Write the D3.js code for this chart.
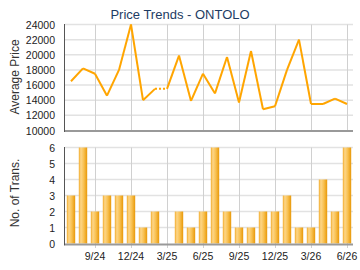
<!DOCTYPE html>
<html>
<head>
<meta charset="utf-8">
<script src="https://cdn.jsdelivr.net/npm/d3@7"></script>
<style>
  body { margin: 0; background: #fff; }
  svg { display: block; font-family: "Liberation Sans", Arial, sans-serif; }
</style>
</head>
<body>
<script>
// chart data
const months = ["7/24","8/24","9/24","10/24","11/24","12/24","1/25","2/25","3/25","4/25","5/25","6/25",
                "7/25","8/25","9/25","10/25","11/25","12/25","1/26","2/26","3/26","4/26","5/26","6/26"]
const prices = [16500,18200,17500,14600,18000,24000,14000,15500,null,19900,13900,17500,
                14900,19700,13700,20500,12800,13200,18000,22000,13500,13500,14200,13500]
const trans = [3,6,2,3,3,3,1,2,0,2,1,2,6,2,1,1,2,2,3,1,1,4,2,6]
const tickMonths = ["9/24","12/24","3/25","6/25","9/25","12/25","3/26","6/26"]
const priceTicks = [10000,12000,14000,16000,18000,20000,22000,24000]
const transTicks = [0,1,2,3,4,5,6]

const width = 360, height = 270
const svg = d3.select("body").append("svg").attr("width",width).attr("height",height)

// gradient for the bars
const grad = svg.append("defs").append("linearGradient").attr("id","barGrad")
  .attr("x1","0%").attr("x2","100%").attr("y1","0%").attr("y2","0%")
grad.append("stop").attr("offset","0%").attr("stop-color","#f2ab2a")
grad.append("stop").attr("offset","25%").attr("stop-color","#fdd688")
grad.append("stop").attr("offset","60%").attr("stop-color","#f8c050")
grad.append("stop").attr("offset","100%").attr("stop-color","#e89808")

const x = d3.scaleBand().domain(months).range([65,353]).paddingInner(0.3).paddingOuter(0.15)
const cx = m => x(m) + x.bandwidth()/2

// title
svg.append("text").attr("x",180).attr("y",19).attr("text-anchor","middle")
  .attr("font-size","13px").attr("fill","#1d3c63").text("Price Trends - ONTOLO")

// ---- top chart: average price
const yP = d3.scaleLinear().domain([10000,24000]).range([130.5,24.5])
const topG = svg.append("g")
topG.selectAll(".hg").data(priceTicks.slice(1)).enter().append("line")
  .attr("x1",65).attr("x2",353).attr("y1",d=>yP(d)).attr("y2",d=>yP(d))
  .attr("stroke","#e2e2e2").attr("stroke-width",1.5)
topG.selectAll(".vg").data(tickMonths).enter().append("line")
  .attr("x1",d=>Math.round(cx(d))+0.5).attr("x2",d=>Math.round(cx(d))+0.5)
  .attr("y1",24.5).attr("y2",130).attr("stroke","#d0d0d0")
topG.selectAll(".yl").data(priceTicks).enter().append("text")
  .attr("x",55).attr("y",d=>yP(d)+4).attr("text-anchor","end")
  .attr("font-size","10.5px").attr("fill","#222").text(d=>d)
topG.append("text").attr("transform","translate(19,77) rotate(-90)").attr("text-anchor","middle")
  .attr("font-size","12px").attr("fill","#333").text("Average Price")

// price line: a gap month is carried with a dotted segment
const pts = []
let last = null
prices.forEach((p,i)=>{
  if(p==null){ pts.push({m:months[i],v:last,gap:true}) }
  else { pts.push({m:months[i],v:p,gap:false}); last = p }
})
const line = d3.line().x(d=>cx(d.m)).y(d=>yP(d.v))
for(let i=1;i<pts.length;i++){
  topG.append("path").datum([pts[i-1],pts[i]]).attr("d",line)
    .attr("fill","none").attr("stroke","#ffa500").attr("stroke-width",2)
    .attr("stroke-linejoin","round")
    .attr("stroke-dasharray",pts[i].gap ? "2,2" : null)
}
topG.append("line").attr("x1",65).attr("x2",353).attr("y1",131).attr("y2",131)
  .attr("stroke","#999").attr("stroke-width",2)
topG.append("line").attr("x1",64.5).attr("x2",64.5).attr("y1",24).attr("y2",132)
  .attr("stroke","#555")

// ---- bottom chart: number of transactions
const yT = d3.scaleLinear().domain([0,6]).range([243.5,147.5])
const botG = svg.append("g")
botG.selectAll(".hg").data(transTicks.slice(1)).enter().append("line")
  .attr("x1",65).attr("x2",353).attr("y1",d=>yT(d)).attr("y2",d=>yT(d))
  .attr("stroke","#e2e2e2").attr("stroke-width",1.5)
botG.selectAll(".vg").data(tickMonths).enter().append("line")
  .attr("x1",d=>Math.round(cx(d))+0.5).attr("x2",d=>Math.round(cx(d))+0.5)
  .attr("y1",147.5).attr("y2",248).attr("stroke","#d0d0d0")
botG.selectAll(".bar").data(months).enter().append("rect")
  .attr("x",d=>x(d)).attr("width",x.bandwidth())
  .attr("y",(d,i)=>yT(trans[i])).attr("height",(d,i)=>yT(0)-yT(trans[i]))
  .attr("fill","url(#barGrad)")
botG.selectAll(".yl").data(transTicks).enter().append("text")
  .attr("x",55).attr("y",d=>yT(d)+4).attr("text-anchor","end")
  .attr("font-size","10.5px").attr("fill","#222").text(d=>d)
botG.selectAll(".xl").data(tickMonths).enter().append("text")
  .attr("x",d=>cx(d)).attr("y",260).attr("text-anchor","middle")
  .attr("font-size","10.5px").attr("fill","#222").text(d=>d)
botG.append("text").attr("transform","translate(19,193) rotate(-90)").attr("text-anchor","middle")
  .attr("font-size","12px").attr("fill","#333").text("No. of Trans.")
botG.append("line").attr("x1",65).attr("x2",353).attr("y1",244.5).attr("y2",244.5)
  .attr("stroke","#999").attr("stroke-width",2)
botG.append("line").attr("x1",64.5).attr("x2",64.5).attr("y1",147).attr("y2",245.5)
  .attr("stroke","#555")
</script>
</body>
</html>
